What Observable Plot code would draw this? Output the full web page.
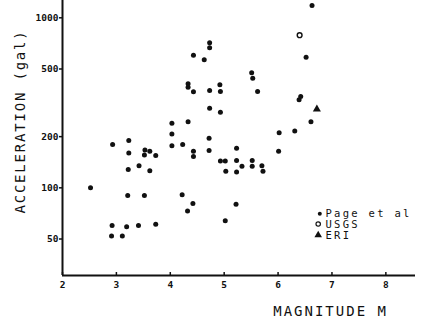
<!DOCTYPE html>
<html><head><meta charset="utf-8">
<script src="https://cdn.jsdelivr.net/npm/d3@7"></script>
<script src="https://cdn.jsdelivr.net/npm/@observablehq/plot@0.6"></script>
<style>
body{margin:0;background:#fff;}
#chart{width:423px;height:321px;}
</style></head><body><div id="chart"></div>
<script>
// Page et al data: magnitude and peak acceleration (gal)
const pageM = [2.52,2.93,3.23,3.23,3.53,3.62,3.52,3.73,3.22,3.42,3.62,3.21,3.52,4.22,2.92,3.19,3.41,3.73,2.91,3.11,
  4.03,4.03,4.03,4.23,4.33,4.43,4.43,4.72,4.72,5.23,4.93,5.02,5.03,5.23,5.23,5.33,5.52,5.52,5.70,5.72,
  4.42,4.32,5.22,5.02,4.73,4.73,4.43,4.63,4.33,4.33,4.43,4.73,4.92,4.93,5.51,5.53,5.62,4.73,4.93,
  6.63,6.52,6.39,6.42,6.61,6.31,6.02,6.01];
const pageA = [100,180,190,160,167,164,156,155,128,135,126,90,90,91,60,59,60,61,52,52,
  240,207,177,180,245,164,153,196,166,171,144,144,125,145,124,134,145,134,135,125,
  81,73,80,64,713,666,603,566,409,391,367,374,404,369,475,441,369,294,278,
  1181,587,330,345,245,216,211,164];
const usgsM = [6.40];
const usgsA = [790];
const eriM = [6.72];
const eriA = [290];

const xTicks = [2,3,4,5,6,7,8];
const yTicks = [50,100,200,500,1000];
const xDomain = [2, 8.55];
const yDomain = [30.5, 1264];
const legendLabels = ["Page et al", "USGS", "ERI"];
const xTitle = "MAGNITUDE M";
const yTitle = "ACCELERATION (gal)";

const ink = "#111";
const mono = "'DejaVu Sans Mono', 'Liberation Mono', monospace";

const pageData = pageM.map((m, i) => ({m, a: pageA[i]}));
const usgsData = usgsM.map((m, i) => ({m, a: usgsA[i]}));
const eriData = eriM.map((m, i) => ({m, a: eriA[i]}));

const legendMarks = [];
legendLabels.forEach((lab, i) => {
  const symY = [213.3, 223.5, 234.5][i];
  const txtY = [213, 224, 235][i];
  const symX = i === 0 ? 257.3 : 255.7;
  if (i === 0) legendMarks.push(Plot.dot([lab], {frameAnchor: "top-left", dx: symX, dy: symY, r: 2, fill: ink, stroke: "none"}));
  if (i === 1) legendMarks.push(Plot.dot([lab], {frameAnchor: "top-left", dx: symX, dy: symY, r: 2.2, fill: "white", stroke: ink, strokeWidth: 1.2}));
  if (i === 2) legendMarks.push(Plot.dot([lab], {frameAnchor: "top-left", dx: symX, dy: symY, r: 2.8, symbol: "triangle", fill: ink, stroke: "none"}));
  legendMarks.push(Plot.text([lab], {frameAnchor: "top-left", dx: 263, dy: txtY, text: d => d, textAnchor: "start", lineAnchor: "middle", fontSize: 10.5, fontFamily: mono, fill: ink}));
});

const chart = Plot.plot({
  width: 423,
  height: 321,
  marginLeft: 62,
  marginRight: 8,
  marginTop: 0,
  marginBottom: 46,
  style: {background: "white", color: ink},
  x: {domain: xDomain, range: [62, 415]},
  y: {type: "log", domain: yDomain, range: [275, 0]},
  marks: [
    Plot.ruleX([xDomain[0]], {stroke: ink, strokeWidth: 2}),
    Plot.ruleY([yDomain[0]], {stroke: ink, strokeWidth: 2}),
    Plot.axisY({ticks: yTicks, tickSize: 3, tickPadding: 1, tickFormat: d => String(d), label: null,
      fontSize: 9.5, fontWeight: "bold", fontFamily: mono, strokeWidth: 1.5}),
    Plot.tickX(xTicks, {x: d => d, insetTop: 272, stroke: ink, strokeWidth: 1.5}),
    Plot.axisX({ticks: xTicks, tickSize: 0, tickPadding: 6, tickFormat: d => String(d), label: null,
      fontSize: 9.5, fontWeight: "bold", fontFamily: mono}),
    Plot.dot(pageData, {x: "m", y: "a", r: 2.5, fill: ink, stroke: "none"}),
    Plot.dot(usgsData, {x: "m", y: "a", r: 2.4, fill: "white", stroke: ink, strokeWidth: 1.4}),
    Plot.dot(eriData, {x: "m", y: "a", r: 3, symbol: "triangle", fill: ink, stroke: "none"}),
    Plot.text([yTitle], {frameAnchor: "left", text: d => d, rotate: -90, dx: -42, dy: -16.5,
      fontSize: 14, fontFamily: mono, fill: ink, textAnchor: "middle", lineAnchor: "middle"}),
    Plot.text([xTitle], {frameAnchor: "bottom-left", text: d => d, dx: 210.7, dy: 36.5,
      fontSize: 14, fontFamily: mono, fill: ink, textAnchor: "start", lineAnchor: "middle"}),
    ...legendMarks
  ]
});

d3.select(chart).selectAll("text").each(function() {
  const t = this.textContent;
  if (t === yTitle) this.style.letterSpacing = "1.8px";
  if (t === xTitle) this.style.letterSpacing = "2px";
  if (legendLabels.includes(t)) this.style.letterSpacing = "2.3px";
});

document.getElementById("chart").appendChild(chart);
</script>
</body></html>
